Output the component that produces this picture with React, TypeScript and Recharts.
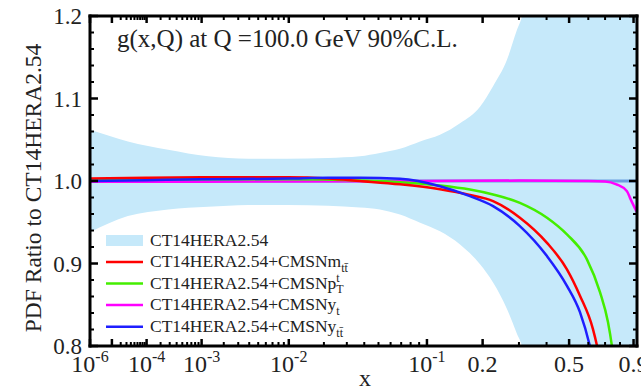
import React from 'react';
import { ComposedChart, Line, Area, XAxis, YAxis, Legend } from 'recharts';

// ---------- data (x in true units, y = PDF ratio) ----------
const bandX = [1e-6, 3.3e-5, 2.8e-4, 1.24e-3, 3.9e-3, 9.8e-3, 0.0216, 0.0373, 0.0511, 0.0688, 0.0912, 0.1187, 0.1527, 0.194, 0.2255, 0.2634, 0.2935, 0.31, 0.35, 0.5, 0.7, 0.927];
const bandHigh = [1.062, 1.048, 1.038, 1.03, 1.027, 1.027, 1.028, 1.03, 1.034, 1.039, 1.048, 1.056, 1.07, 1.09, 1.115, 1.147, 1.183, 1.2, 1.3, 1.6, 2.0, 2.5];
const bandLow = [0.938, 0.9575, 0.9656, 0.9688, 0.971, 0.971, 0.97, 0.968, 0.9656, 0.9595, 0.9495, 0.939, 0.923, 0.899, 0.877, 0.845, 0.815, 0.8, 0.7, 0.4, 0.2, 0.0];

const centralX = [1e-6, 0.927];
const centralY = [1.0, 1.0];

const redX = [1e-6, 1e-4, 1e-3, 1e-2, 0.0216, 0.0373, 0.0688, 0.1187, 0.1722, 0.2255, 0.303, 0.4017, 0.4895, 0.5547, 0.6265, 0.6507, 0.68];
const redY = [1.003, 1.004, 1.0045, 1.0045, 1.003, 1.0, 0.996, 0.99, 0.983, 0.9756, 0.9555, 0.925, 0.893, 0.861, 0.8205, 0.8, 0.77];

const greenX = [1e-6, 1e-4, 1e-3, 1e-2, 0.0373, 0.0688, 0.1187, 0.1722, 0.2255, 0.303, 0.4017, 0.4895, 0.5923, 0.6688, 0.7185, 0.7444, 0.77];
const greenY = [1.002, 1.002, 1.002, 1.002, 1.0006, 0.9986, 0.9946, 0.9897, 0.9837, 0.9736, 0.9555, 0.9353, 0.905, 0.865, 0.829, 0.8, 0.76];

const magentaX = [1e-6, 1e-3, 1e-2, 0.1, 0.3, 0.6, 0.7, 0.775, 0.85, 0.877, 0.927];
const magentaY = [0.999, 0.999, 0.9995, 1.0, 1.0005, 1.0, 0.9995, 0.996, 0.9877, 0.978, 0.962];

const blueX = [1e-6, 1e-4, 1e-3, 1e-2, 0.0216, 0.0373, 0.0688, 0.1187, 0.1722, 0.2255, 0.303, 0.4017, 0.4895, 0.5547, 0.609, 0.64];
const blueY = [1.0, 1.001, 1.002, 1.003, 1.004, 1.004, 1.0027, 0.9937, 0.9816, 0.9695, 0.9454, 0.909, 0.873, 0.841, 0.8, 0.77];

// ---------- axis ticks ----------
const X_MIN = 1e-6;
const X_MAX = 0.927;
const xMajorVals = [1e-6, 1e-5, 1e-4, 1e-3, 1e-2, 1e-1, 0.2, 0.5, 0.9];
const xMinorVals = [
  2e-5, 3e-5, 4e-5, 5e-5, 6e-5, 7e-5, 8e-5, 9e-5,
  2e-4, 3e-4, 4e-4, 5e-4, 6e-4, 7e-4, 8e-4, 9e-4,
  2e-3, 3e-3, 4e-3, 5e-3, 6e-3, 7e-3, 8e-3, 9e-3,
  2e-2, 3e-2, 4e-2, 5e-2, 6e-2, 7e-2, 8e-2, 9e-2,
  0.3, 0.4, 0.6, 0.7, 0.8,
];
const xLabelVals = [1e-6, 1e-4, 1e-3, 1e-2, 1e-1, 0.2, 0.5, 0.9];
const xLabelBase = ['10', '10', '10', '10', '10', '0.2', '0.5', '0.9'];
const xLabelExp = ['-6', '-4', '-3', '-2', '-1', '', '', ''];

const yMajor = [0.8, 0.9, 1.0, 1.1, 1.2];
const yMinor = [0.82, 0.84, 0.86, 0.88, 0.92, 0.94, 0.96, 0.98, 1.02, 1.04, 1.06, 1.08, 1.12, 1.14, 1.16, 1.18];

const legendBase = ['CT14HERA2.54', 'CT14HERA2.54+CMSNm', 'CT14HERA2.54+CMSNp', 'CT14HERA2.54+CMSNy', 'CT14HERA2.54+CMSNy'];
const legendSup = ['', '', 't', '', ''];
const legendSub = ['', 'tt\u0304', 'T', 't', 'tt\u0304'];

const COLORS = {
  band: '#c6e9fa',
  central: '#6a9fdf',
  red: '#ff0000',
  green: '#44ee00',
  magenta: '#ff00ff',
  blue: '#1e1eff',
};
const legendColors = [COLORS.band, COLORS.red, COLORS.green, COLORS.magenta, COLORS.blue];

// x axis uses the x^(1/5) display scale of the original plot
const toU = (x: number) => Math.pow(x, 0.2);
const uMin = toU(X_MIN);
const uMax = toU(X_MAX);

const bandData = bandX.map((x, i) => ({ u: toU(x), range: [bandLow[i], bandHigh[i]] }));
const mk = (xs: number[], ys: number[]) => xs.map((x, i) => ({ u: toU(x), v: ys[i] }));
const centralData = mk(centralX, centralY);
const redData = mk(redX, redY);
const greenData = mk(greenX, greenY);
const magentaData = mk(magentaX, magentaY);
const blueData = mk(blueX, blueY);

const xMajorU = xMajorVals.map(toU);
const xLabelU = xLabelVals.map(toU);
const xTicksU = [...xMajorVals, ...xMinorVals].map(toU).sort((a, b) => a - b);
const yTicks = [...yMajor, ...yMinor].sort((a, b) => a - b);

const FONT = '"Liberation Serif", "Times New Roman", serif';
const close = (a: number, b: number) => Math.abs(a - b) < 1e-6;

const BottomTick = (props: any) => {
  const { x, y, payload } = props;
  const u = payload.value;
  const major = xMajorU.some((m) => close(m, u));
  const li = xLabelU.findIndex((m) => close(m, u));
  return (
    <g>
      <line x1={x} x2={x} y1={y} y2={y - (major ? 7 : 4)} stroke="#000" strokeWidth={major ? 2.5 : 2} />
      {li >= 0 && (
        <text x={x} y={y + 26} textAnchor="middle" fontSize={24} fontFamily={FONT} fill="#222">
          {xLabelBase[li]}
          {xLabelExp[li] && (
            <tspan dy={-10} fontSize={16}>
              {xLabelExp[li]}
            </tspan>
          )}
        </text>
      )}
    </g>
  );
};

const TopTick = (props: any) => {
  const { x, y, payload } = props;
  const u = payload.value;
  const major = xMajorU.some((m) => close(m, u));
  return <line x1={x} x2={x} y1={y} y2={y + (major ? 7 : 4)} stroke="#000" strokeWidth={major ? 2.5 : 2} />;
};

const LeftTick = (props: any) => {
  const { x, y, payload } = props;
  const v = payload.value;
  const major = yMajor.some((m) => close(m, v));
  return (
    <g>
      <line x1={x} x2={x + (major ? 8 : 4)} y1={y} y2={y} stroke="#000" strokeWidth={major ? 2.5 : 2} />
      {major && (
        <text x={x - 8} y={y + 8} textAnchor="end" fontSize={23} fontFamily={FONT} fill="#222">
          {v.toFixed(1)}
        </text>
      )}
    </g>
  );
};

const RightTick = (props: any) => {
  const { x, y, payload } = props;
  const v = payload.value;
  const major = yMajor.some((m) => close(m, v));
  return <line x1={x} x2={x - (major ? 8 : 4)} y1={y} y2={y} stroke="#000" strokeWidth={major ? 2.5 : 2} />;
};

const rowLineY = [12.5, 34, 55.5, 77, 98.7];
const rowTextY = [18, 39, 60.5, 82, 103.5];

const LegendBox = () => (
  <svg width={300} height={112} style={{ display: 'block', overflow: 'visible' }}>
    {legendBase.map((name, i) => (
      <g key={i}>
        {i === 0 ? (
          <rect x={6} y={7} width={37} height={11} fill={legendColors[i]} />
        ) : (
          <line x1={6} x2={43} y1={rowLineY[i]} y2={rowLineY[i]} stroke={legendColors[i]} strokeWidth={2.5} />
        )}
        <text x={50} y={rowTextY[i]} fontSize={17.5} fontFamily={FONT} fill="#222">
          {name}
          {legendSup[i] && (
            <tspan dy={-7} fontSize={12}>
              {legendSup[i]}
            </tspan>
          )}
          {legendSub[i] && (
            <tspan dx={legendSup[i] ? -3.5 : 0} dy={legendSup[i] ? 11 : 5} fontSize={12}>
              {legendSub[i]}
            </tspan>
          )}
        </text>
      </g>
    ))}
  </svg>
);

const frameAxisLine = { stroke: '#000', strokeWidth: 3, strokeLinecap: 'square' as const };

export default function App() {
  return (
    <div style={{ position: 'absolute', left: 0, top: 0, background: '#fff' }}>
      <ComposedChart width={641} height={387} margin={{ top: 15, right: 3, bottom: 40, left: 89 }}>
        <XAxis
          xAxisId="b"
          type="number"
          dataKey="u"
          domain={[uMin, uMax]}
          ticks={xTicksU}
          allowDataOverflow
          interval={0}
          height={1}
          tickSize={0}
          tickMargin={0}
          tickLine={false}
          axisLine={frameAxisLine}
          tick={(p: any) => <BottomTick {...p} />}
        />
        <XAxis
          xAxisId="t"
          orientation="top"
          type="number"
          dataKey="u"
          domain={[uMin, uMax]}
          ticks={xTicksU}
          allowDataOverflow
          interval={0}
          height={1}
          tickSize={0}
          tickMargin={0}
          tickLine={false}
          axisLine={frameAxisLine}
          tick={(p: any) => <TopTick {...p} />}
        />
        <YAxis
          yAxisId="l"
          type="number"
          domain={[0.8, 1.2]}
          ticks={yTicks}
          allowDataOverflow
          interval={0}
          width={1}
          tickSize={0}
          tickMargin={0}
          tickLine={false}
          axisLine={frameAxisLine}
          tick={(p: any) => <LeftTick {...p} />}
        />
        <YAxis
          yAxisId="r"
          orientation="right"
          type="number"
          domain={[0.8, 1.2]}
          ticks={yTicks}
          allowDataOverflow
          interval={0}
          width={1}
          tickSize={0}
          tickMargin={0}
          tickLine={false}
          axisLine={frameAxisLine}
          tick={(p: any) => <RightTick {...p} />}
        />
        <Area
          xAxisId="b"
          yAxisId="l"
          data={bandData}
          dataKey="range"
          type="monotone"
          stroke="none"
          fill={COLORS.band}
          fillOpacity={1}
          isAnimationActive={false}
        />
        <Line xAxisId="b" yAxisId="l" data={centralData} dataKey="v" stroke={COLORS.central} strokeWidth={3} dot={false} isAnimationActive={false} />
        <Line xAxisId="b" yAxisId="l" data={magentaData} dataKey="v" type="monotone" stroke={COLORS.magenta} strokeWidth={2.5} dot={false} isAnimationActive={false} />
        <Line xAxisId="b" yAxisId="l" data={greenData} dataKey="v" type="monotone" stroke={COLORS.green} strokeWidth={2.5} dot={false} isAnimationActive={false} />
        <Line xAxisId="b" yAxisId="l" data={redData} dataKey="v" type="monotone" stroke={COLORS.red} strokeWidth={2.5} dot={false} isAnimationActive={false} />
        <Line xAxisId="b" yAxisId="l" data={blueData} dataKey="v" type="monotone" stroke={COLORS.blue} strokeWidth={2.5} dot={false} isAnimationActive={false} />
        <Legend
          layout="vertical"
          align="center"
          verticalAlign="middle"
          content={() => <LegendBox />}
          wrapperStyle={{ left: 100, top: 228, width: 300, height: 112 }}
        />
        <text x={117} y={47} fontSize={25} fontFamily={FONT} fill="#222">
          g(x,Q) at Q =100.0 GeV 90%C.L.
        </text>
        <text x={41} y={188} transform="rotate(-90 41 188)" textAnchor="middle" fontSize={23.5} fontFamily={FONT} fill="#222">
          PDF Ratio to CT14HERA2.54
        </text>
        <text x={365} y={386} textAnchor="middle" fontSize={24} fontFamily={FONT} fill="#222">
          x
        </text>
      </ComposedChart>
    </div>
  );
}
